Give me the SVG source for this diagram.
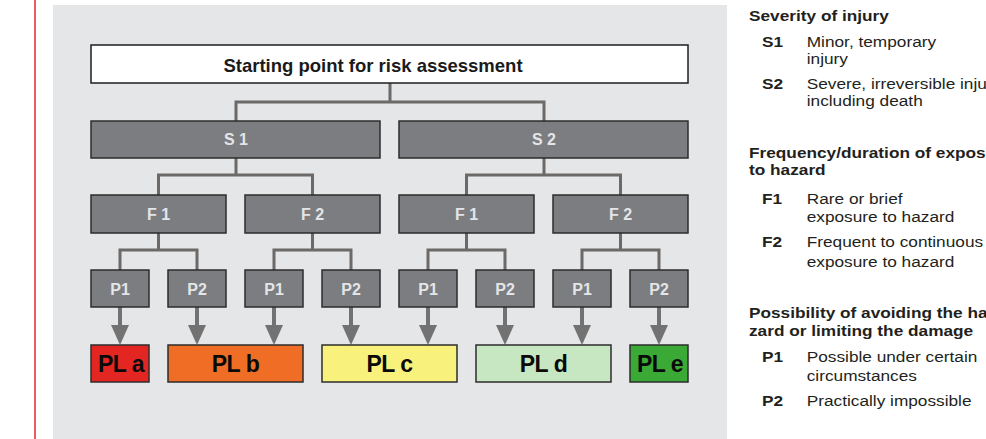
<svg xmlns="http://www.w3.org/2000/svg" width="986" height="439" viewBox="0 0 986 439">
  <defs>
    <style>
      .panel { fill: #e5e6e8; }
      .start { fill: #ffffff; stroke: #1e1e1e; stroke-width: 1.5; }
      .box { fill: #7b7d81; stroke: #2e2c2c; stroke-width: 1.5; }
      .lbl { font-family: "Liberation Sans", Arial, sans-serif; font-weight: bold; font-size: 16px; fill: #e4e5e7; text-anchor: middle; }
      .title { font-family: "Liberation Sans", Arial, sans-serif; font-weight: bold; font-size: 18.5px; fill: #1a1a1a; text-anchor: middle; }
      .pl { stroke: #2e2c2c; stroke-width: 1.5; }
      .pltxt { font-family: "Liberation Sans", Arial, sans-serif; font-weight: bold; font-size: 23px; fill: #0a0a0a; text-anchor: middle; letter-spacing: -0.5px; }
      .conn { fill: none; stroke: #6d6967; stroke-width: 3; }
      .shaft { stroke: #727273; stroke-width: 4; }
      .head { fill: #727273; }
      .lg { font-family: "Liberation Sans", Arial, sans-serif; font-size: 15px; fill: #231f20; }
      .lgb { font-weight: bold; }
    </style>
  </defs>

  <!-- margin rule -->
  <line x1="35" y1="0" x2="35" y2="439" stroke="#e4252d" stroke-width="1.5"/>

  <!-- grey panel -->
  <rect class="panel" x="53" y="5" width="674" height="434"/>

  <!-- connectors -->
  <g id="connectors">
    <!-- start to S -->
    <path class="conn" d="M390,83 V102 M236,121 V102 H544 V121"/>
    <!-- S to F -->
    <path class="conn" d="M236,158 V175 M158.5,195 V175 H312.5 V195"/>
    <path class="conn" d="M544,158 V175 M466.5,195 V175 H620.5 V195"/>
    <!-- F to P -->
    <path class="conn" d="M158.5,233 V250 M120,270 V250 H197 V270"/>
    <path class="conn" d="M312.5,233 V250 M274,270 V250 H351 V270"/>
    <path class="conn" d="M466.5,233 V250 M428,270 V250 H505 V270"/>
    <path class="conn" d="M620.5,233 V250 M582,270 V250 H659 V270"/>
    <!-- P to PL arrows -->
    <g>
      <line class="shaft" x1="120" y1="307" x2="120" y2="327"/><polygon class="head" points="111,325 129,325 120,345"/>
      <line class="shaft" x1="197" y1="307" x2="197" y2="327"/><polygon class="head" points="188,325 206,325 197,345"/>
      <line class="shaft" x1="274" y1="307" x2="274" y2="327"/><polygon class="head" points="265,325 283,325 274,345"/>
      <line class="shaft" x1="351" y1="307" x2="351" y2="327"/><polygon class="head" points="342,325 360,325 351,345"/>
      <line class="shaft" x1="428" y1="307" x2="428" y2="327"/><polygon class="head" points="419,325 437,325 428,345"/>
      <line class="shaft" x1="505" y1="307" x2="505" y2="327"/><polygon class="head" points="496,325 514,325 505,345"/>
      <line class="shaft" x1="582" y1="307" x2="582" y2="327"/><polygon class="head" points="573,325 591,325 582,345"/>
      <line class="shaft" x1="659" y1="307" x2="659" y2="327"/><polygon class="head" points="650,325 668,325 659,345"/>
    </g>
  </g>

  <!-- start box -->
  <g id="start">
    <rect class="start" x="91" y="45" width="597" height="38"/>
    <text class="title" x="373" y="72">Starting point for risk assessment</text>
  </g>

  <!-- severity -->
  <g id="s1"><rect class="box" x="91" y="121" width="289" height="37"/><text class="lbl" x="236" y="145">S 1</text></g>
  <g id="s2"><rect class="box" x="399" y="121" width="289" height="37"/><text class="lbl" x="544" y="145">S 2</text></g>

  <!-- frequency -->
  <g id="s1-f1"><rect class="box" x="91" y="195" width="135" height="38"/><text class="lbl" x="158.5" y="220">F 1</text></g>
  <g id="s1-f2"><rect class="box" x="245" y="195" width="135" height="38"/><text class="lbl" x="312.5" y="220">F 2</text></g>
  <g id="s2-f1"><rect class="box" x="399" y="195" width="135" height="38"/><text class="lbl" x="466.5" y="220">F 1</text></g>
  <g id="s2-f2"><rect class="box" x="553" y="195" width="135" height="38"/><text class="lbl" x="620.5" y="220">F 2</text></g>

  <!-- possibility -->
  <g id="p-1"><rect class="box" x="91" y="270" width="58" height="37"/><text class="lbl" x="120" y="295">P1</text></g>
  <g id="p-2"><rect class="box" x="168" y="270" width="58" height="37"/><text class="lbl" x="197" y="295">P2</text></g>
  <g id="p-3"><rect class="box" x="245" y="270" width="58" height="37"/><text class="lbl" x="274" y="295">P1</text></g>
  <g id="p-4"><rect class="box" x="322" y="270" width="58" height="37"/><text class="lbl" x="351" y="295">P2</text></g>
  <g id="p-5"><rect class="box" x="399" y="270" width="58" height="37"/><text class="lbl" x="428" y="295">P1</text></g>
  <g id="p-6"><rect class="box" x="476" y="270" width="58" height="37"/><text class="lbl" x="505" y="295">P2</text></g>
  <g id="p-7"><rect class="box" x="553" y="270" width="58" height="37"/><text class="lbl" x="582" y="295">P1</text></g>
  <g id="p-8"><rect class="box" x="630" y="270" width="58" height="37"/><text class="lbl" x="659" y="295">P2</text></g>

  <!-- performance levels -->
  <g id="pl-a"><rect class="pl" x="91" y="345" width="58" height="37" fill="#e42622"/><text class="pltxt" x="121" y="372">PL a</text></g>
  <g id="pl-b"><rect class="pl" x="168" y="345" width="135" height="37" fill="#ef6d24"/><text class="pltxt" x="235.5" y="372">PL b</text></g>
  <g id="pl-c"><rect class="pl" x="322" y="345" width="135" height="37" fill="#f8f17c"/><text class="pltxt" x="389.5" y="372">PL c</text></g>
  <g id="pl-d"><rect class="pl" x="476" y="345" width="135" height="37" fill="#c6e7c1"/><text class="pltxt" x="543.5" y="372">PL d</text></g>
  <g id="pl-e"><rect class="pl" x="630" y="345" width="58" height="37" fill="#3aa935"/><text class="pltxt" x="660" y="372">PL e</text></g>

  <!-- legend (type set slightly wide) -->
  <g id="legend" transform="matrix(1.15 0 0 1 749 0)">
    <text class="lg lgb" x="0" y="21">Severity of injury</text>
    <text class="lg lgb" x="11.3" y="47.5">S1</text>
    <text class="lg" x="50.2" y="47.5">Minor, temporary</text>
    <text class="lg" x="50.2" y="64">injury</text>
    <text class="lg lgb" x="11.3" y="89.5">S2</text>
    <text class="lg" x="50.2" y="89.5">Severe, irreversible inju</text>
    <text class="lg" x="50.2" y="106">including death</text>

    <text class="lg lgb" x="0" y="158">Frequency/duration of expos</text>
    <text class="lg lgb" x="0" y="175.5">to hazard</text>
    <text class="lg lgb" x="11.3" y="204">F1</text>
    <text class="lg" x="50.2" y="204">Rare or brief</text>
    <text class="lg" x="50.2" y="222">exposure to hazard</text>
    <text class="lg lgb" x="11.3" y="247">F2</text>
    <text class="lg" x="50.2" y="247">Frequent to continuous</text>
    <text class="lg" x="50.2" y="267">exposure to hazard</text>

    <text class="lg lgb" x="0" y="318">Possibility of avoiding the ha</text>
    <text class="lg lgb" x="0" y="336">zard or limiting the damage</text>
    <text class="lg lgb" x="11.3" y="362">P1</text>
    <text class="lg" x="50.2" y="362">Possible under certain</text>
    <text class="lg" x="50.2" y="381">circumstances</text>
    <text class="lg lgb" x="11.3" y="406">P2</text>
    <text class="lg" x="50.2" y="406">Practically impossible</text>
  </g>
</svg>
